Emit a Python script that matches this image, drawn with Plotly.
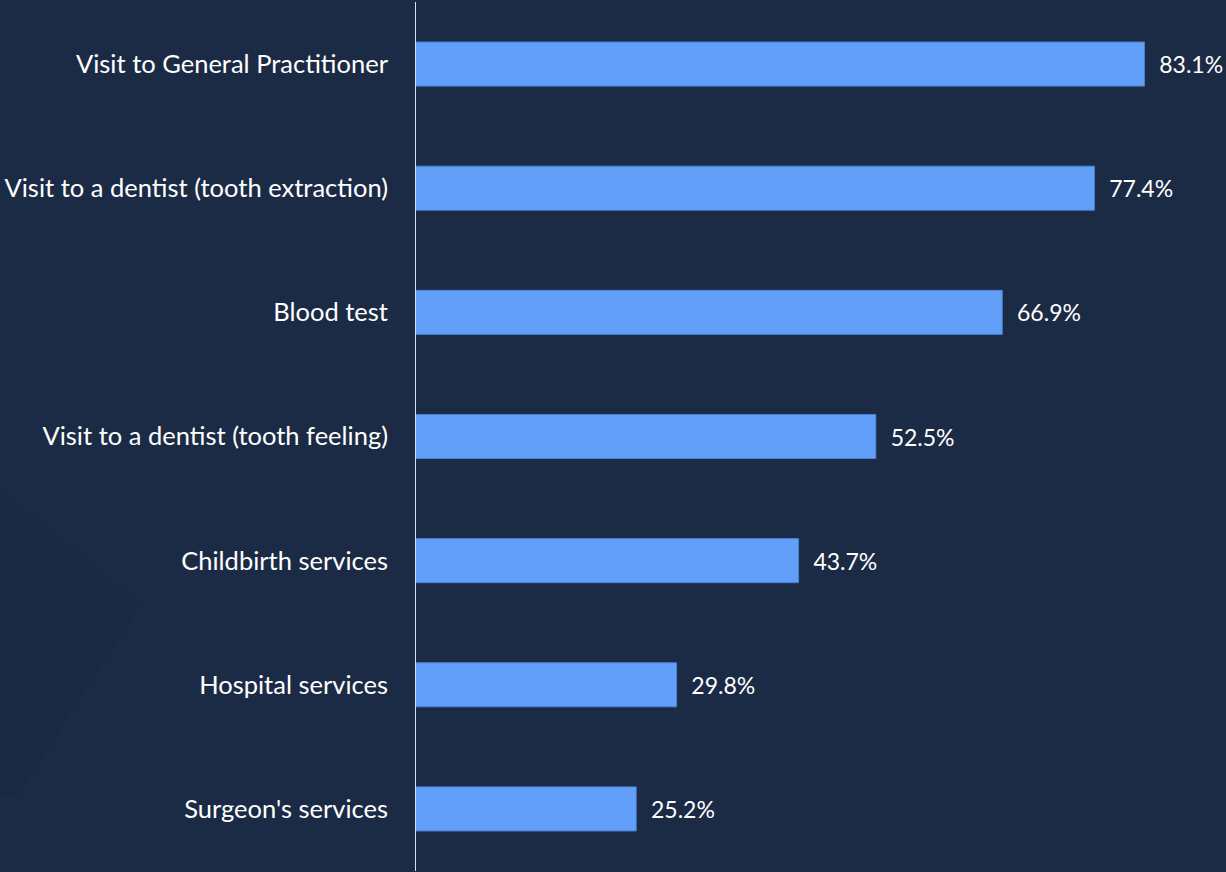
import plotly.graph_objects as go

categories = [
    "Visit to General Practitioner",
    "Visit to a dentist (tooth extraction)",
    "Blood test",
    "Visit to a dentist (tooth feeling)",
    "Childbirth services",
    "Hospital services",
    "Surgeon's services",
]
values = [83.1, 77.4, 66.9, 52.5, 43.7, 29.8, 25.2]
value_labels = [f"{v:.1f}%" for v in values]

BG = "#1c2b45"
BAR = "#629ff8"
FONT = "Lato"

W, H = 1226, 872
ML, MR, MT, MB = 415, 0, 2, 1
plot_w = W - ML - MR

def px_to_paper_x(px):
    return (px - ML) / plot_w

def py_to_paper_y(py):
    return 1 - (py - MT) / (H - MT - MB)

fig = go.Figure()
fig.add_trace(go.Bar(
    x=values,
    y=categories,
    orientation="h",
    width=0.355,
    marker=dict(color=BAR, line=dict(color="#4a80d6", width=1)),
    text=value_labels,
    texttemplate="  %{text}",
    textposition="outside",
    textfont=dict(color="white", size=23, family=FONT),
    cliponaxis=False,
    hoverinfo="skip",
))

# faint decorative background shapes (lower left)
bg_path = "M {} {} L {} {} L {} {} L {} {} Z".format(
    px_to_paper_x(0), py_to_paper_y(490),
    px_to_paper_x(140), py_to_paper_y(605),
    px_to_paper_x(18), py_to_paper_y(795),
    px_to_paper_x(0), py_to_paper_y(795),
)
fig.add_shape(type="path", path=bg_path, xref="paper", yref="paper",
              fillcolor="rgba(12,22,40,0.10)", line=dict(width=0), layer="below")

fig.update_layout(
    width=W, height=H,
    paper_bgcolor=BG, plot_bgcolor=BG,
    margin=dict(l=ML, r=MR, t=MT, b=MB, pad=0),
    showlegend=False,
    bargap=0.645,
    font=dict(family=FONT, color="white", size=26),
)
fig.update_xaxes(range=[0, plot_w / 8.778], visible=False, fixedrange=True)
fig.update_yaxes(
    categoryorder="array",
    categoryarray=categories[::-1],
    showgrid=False,
    zeroline=False,
    showline=False,
    ticks="",
    ticklabelstandoff=26,
    tickfont=dict(color="white", size=25.5, family=FONT),
    fixedrange=True,
)
# vertical axis line at zero
fig.add_shape(type="line", xref="x", yref="paper", x0=0, x1=0, y0=0, y1=1,
              line=dict(color="#d9dde6", width=2))

fig.write_html("out.html")
